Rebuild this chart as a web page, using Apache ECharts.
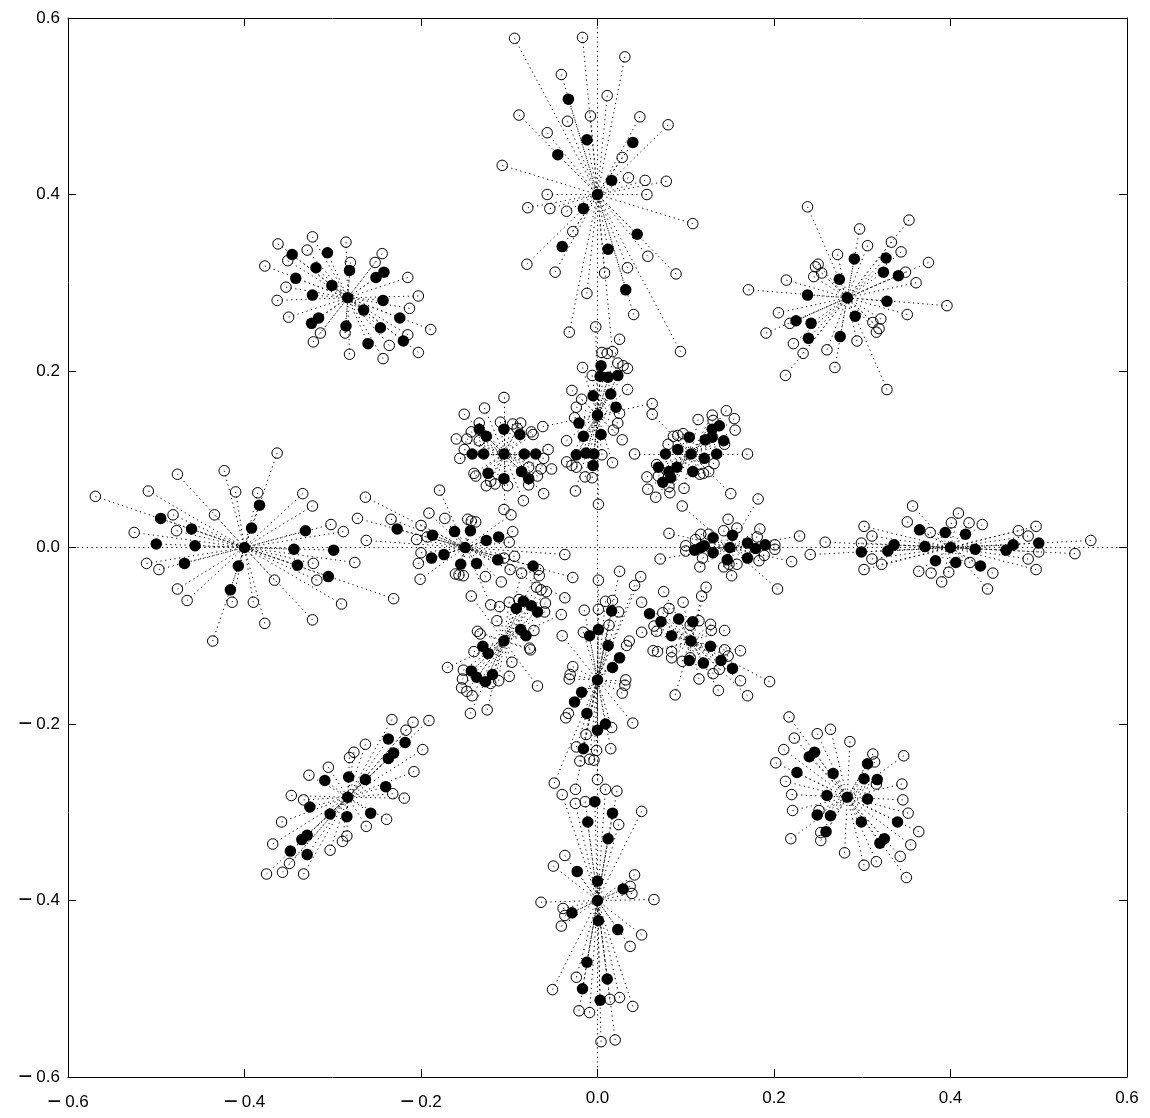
<!DOCTYPE html>
<html><head><meta charset="utf-8">
<style>html,body{margin:0;padding:0;background:#fff}#c{width:1150px;height:1118px}</style>
<script src="https://cdn.jsdelivr.net/npm/echarts@6/dist/echarts.min.js"></script>
</head><body><div id="c"></div>
<script>
const ticks=[-0.6,-0.4,-0.2,0,0.2,0.4,0.6];

const topHub=[0,0.4];
const topFilled=[[-.033,.508],[-.012,.462],[.040,.459],[-.045,.445],[.016,.416],[-.016,.384],[.045,.355],[-.040,.341],[.012,.338],[.032,.292]];
const topOpen=[[-.094,.577],[-.017,.578],[.031,.556],[-.041,.536],[.011,.512],[-.089,.490],[-.008,.489],[-.034,.483],[.048,.488],[.080,.479],[-.057,.470],[.028,.442],[-.108,.433],[.035,.419],[.054,.416],[.078,.415],[-.057,.400],[.056,.400],[-.079,.385],[-.054,.384],[-.035,.381],[-.028,.358],[.108,.367],[-.080,.321],[-.048,.312],[.008,.311],[.034,.317],[.057,.330],[.089,.310],[-.012,.288],[.041,.264],[-.032,.244],[.017,.222],[.094,.222]];

const ulHub=[-.283,.283];
const ulFilled=[[-.346,.332],[-.306,.334],[-.319,.317],[-.242,.312],[-.251,.306],[-.281,.314],[-.342,.305],[-.301,.297],[-.323,.286],[-.243,.280],[-.265,.269],[-.224,.260],[-.316,.260],[-.324,.254],[-.246,.249],[-.285,.251],[-.260,.231],[-.220,.234]];
const ulOpen=[[-.323,.352],[-.362,.344],[-.285,.346],[-.329,.337],[-.244,.333],[-.280,.323],[-.351,.325],[-.252,.323],[-.377,.319],[-.215,.306],[-.353,.295],[-.203,.285],[-.363,.280],[-.213,.271],[-.350,.261],[-.189,.247],[-.314,.243],[-.286,.243],[-.215,.241],[-.322,.233],[-.236,.229],[-.203,.221],[-.281,.219],[-.243,.214]];

const urHub=[.283,.283];
const urFilled=[[.291,.327],[.327,.328],[.324,.312],[.341,.308],[.274,.304],[.238,.286],[.328,.279],[.292,.262],[.225,.257],[.242,.254],[.275,.239],[.239,.237]];
const urOpen=[[.238,.386],[.353,.371],[.297,.361],[.333,.346],[.306,.342],[.344,.335],[.272,.332],[.250,.321],[.247,.318],[.254,.311],[.245,.307],[.375,.323],[.349,.312],[.361,.300],[.214,.303],[.171,.292],[.396,.274],[.351,.264],[.205,.266],[.321,.259],[.312,.255],[.218,.254],[.319,.248],[.316,.244],[.191,.243],[.294,.234],[.222,.231],[.260,.224],[.233,.220],[.269,.204],[.213,.195],[.328,.179]];

const leftHub=[-.4,0];
const leftFilled=[[-.495,.033],[-.383,.048],[-.392,.022],[-.460,.021],[-.331,.019],[-.500,.004],[-.456,.002],[-.344,-.002],[-.299,-.003],[-.407,-.021],[-.468,-.018],[-.340,-.020],[-.305,-.033],[-.416,-.048]];
const leftOpen=[[-.363,.107],[-.569,.058],[-.476,.083],[-.423,.087],[-.509,.064],[-.410,.063],[-.385,.062],[-.334,.061],[-.323,.047],[-.481,.037],[-.434,.037],[-.302,.026],[-.288,.018],[-.525,.017],[-.477,.019],[-.511,-.018],[-.497,-.025],[-.322,-.018],[-.275,-.017],[-.366,-.037],[-.318,-.037],[-.476,-.047],[-.465,-.060],[-.414,-.062],[-.390,-.062],[-.290,-.064],[-.377,-.086],[-.323,-.082],[-.231,-.058],[-.436,-.106]];

const innerTopHub=[0,.15];
const innerTopFilled=[[.004,.206],[.003,.194],[.012,.193],[.023,.195],[-.005,.172],[.015,.174],[.021,.159],[-.021,.141],[-.016,.126],[.004,.128],[-.024,.105],[-.013,.107],[-.004,.106],[-.005,.093]];
const innerTopOpen=[[-.002,.250],[.025,.236],[.005,.221],[.011,.220],[.023,.209],[.029,.206],[.034,.203],[-.017,.204],[-.006,.195],[-.029,.178],[.034,.179],[-.018,.168],[-.024,.159],[.025,.152],[.062,.163],[-.062,.137],[-.026,.147],[.023,.141],[.018,.133],[-.035,.121],[.028,.122],[.005,.105],[-.035,.097],[-.029,.093],[-.024,.091],[.017,.096],[-.014,.080],[-.006,.079],[-.025,.064],[.001,.049]];

const innerUlHub=[-.106,.106];
const innerUlFilled=[[-.134,.134],[-.126,.126],[-.106,.134],[-.088,.128],[-.142,.106],[-.129,.106],[-.083,.106],[-.070,.106],[-.124,.084],[-.086,.086],[-.106,.078],[-.078,.078]];
const innerUlOpen=[[-.106,.170],[-.128,.158],[-.151,.151],[-.134,.141],[-.110,.142],[-.096,.140],[-.087,.141],[-.091,.135],[-.143,.131],[-.075,.131],[-.073,.128],[-.160,.123],[-.148,.123],[-.134,.121],[-.151,.111],[-.056,.111],[-.061,.101],[-.156,.101],[-.078,.091],[-.064,.089],[-.052,.089],[-.140,.084],[-.138,.081],[-.068,.081],[-.121,.075],[-.126,.070],[-.116,.072],[-.102,.070],[-.078,.071],[-.061,.061],[-.084,.053],[-.106,.043]];

const innerUrHub=[.106,.106];
const innerUrFilled=[[.104,.125],[.091,.111],[.077,.106],[.135,.106],[.121,.101],[.143,.121],[.122,.122],[.130,.125],[.130,.134],[.138,.138],[.069,.091],[.090,.091],[.081,.086],[.083,.079],[.108,.086],[.074,.074]];
const innerUrOpen=[[.146,.155],[.130,.150],[.131,.144],[.114,.145],[.155,.146],[.156,.133],[.086,.126],[.091,.127],[.097,.129],[.080,.117],[.144,.117],[.170,.106],[.042,.106],[.062,.151],[.132,.095],[.126,.086],[.120,.084],[.116,.083],[.067,.094],[.069,.081],[.056,.080],[.057,.066],[.081,.069],[.082,.062],[.066,.057],[.098,.067],[.151,.061]];

const innerLeftHub=[-.15,0];
const innerLeftFilled=[[-.227,.021],[-.187,.014],[-.162,.018],[-.144,.019],[-.126,.008],[-.112,.012],[-.174,-.008],[-.188,-.012],[-.113,-.014],[-.155,-.019],[-.137,-.018],[-.073,-.021]];
const innerLeftOpen=[[-.263,.057],[-.272,.033],[-.262,.008],[-.179,.065],[-.191,.039],[-.234,.032],[-.173,.033],[-.200,.025],[-.147,.032],[-.143,.030],[-.138,.029],[-.193,.012],[-.205,.009],[-.096,.018],[-.100,.006],[-.098,.037],[-.200,-.006],[-.203,-.018],[-.106,-.012],[-.094,-.010],[-.037,-.008],[-.161,-.030],[-.157,-.031],[-.152,-.032],[-.099,-.025],[-.066,-.032],[-.201,-.036],[-.127,-.033],[-.109,-.039],[-.028,-.034],[-.037,-.057],[-.121,-.065]];

const innerLlHub=[-.106,-.106];
const innerLlFilled=[[-.092,-.069],[-.084,-.061],[-.075,-.066],[-.068,-.073],[-.087,-.093],[-.081,-.100],[-.130,-.112],[-.124,-.120],[-.143,-.140],[-.137,-.147],[-.127,-.152],[-.119,-.144]];
const innerLlOpen=[[-.143,-.055],[-.111,-.067],[-.100,-.062],[-.089,-.059],[-.069,-.045],[-.064,-.048],[-.058,-.050],[-.059,-.063],[-.060,-.073],[-.041,-.076],[-.114,-.083],[-.136,-.095],[-.133,-.098],[-.072,-.094],[-.077,-.114],[-.076,-.116],[-.140,-.118],[-.097,-.130],[-.170,-.136],[-.152,-.139],[-.153,-.149],[-.100,-.146],[-.112,-.151],[-.121,-.154],[-.154,-.159],[-.148,-.163],[-.142,-.168],[-.068,-.157],[-.144,-.188],[-.125,-.184],[-.086,-.029],[-.067,-.025]];

const innerBottomHub=[0,-.15];
const innerBottomFilled=[[.016,-.072],[.001,-.093],[-.009,-.100],[.012,-.111],[.025,-.125],[.017,-.136],[-.018,-.164],[-.026,-.175],[-.012,-.188],[.009,-.200],[0,-.207],[-.016,-.228]];
const innerBottomOpen=[[-.015,-.071],[.001,-.070],[.009,-.061],[.017,-.060],[.024,-.073],[-.016,-.096],[.013,-.088],[-.040,-.100],[.036,-.106],[.033,-.111],[-.028,-.135],[-.031,-.144],[-.032,-.149],[.032,-.150],[.031,-.156],[.028,-.165],[.040,-.199],[-.033,-.188],[-.036,-.193],[-.013,-.212],[.016,-.204],[-.024,-.226],[-.001,-.230],[.015,-.228],[-.020,-.242],[-.009,-.240],[-.004,-.241],[.001,-.037],[.025,-.027],[.049,-.033],[.042,-.043],[-.049,-.267],[-.025,-.274],[0,-.263]];

const innerLrHub=[.106,-.106];
const innerLrFilled=[[.059,-.075],[.072,-.084],[.092,-.081],[.108,-.084],[.084,-.100],[.128,-.112],[.140,-.128],[.153,-.137],[.120,-.131],[.104,-.128]];
const innerLrOpen=[[.075,-.050],[.097,-.062],[.050,-.062],[.123,-.045],[.118,-.055],[.081,-.069],[.074,-.074],[.115,-.083],[.128,-.087],[.129,-.094],[.105,-.088],[.144,-.094],[.064,-.089],[.067,-.095],[.050,-.096],[.063,-.117],[.068,-.118],[.144,-.116],[.148,-.123],[.162,-.117],[.084,-.118],[.084,-.125],[.096,-.129],[.105,-.125],[.138,-.138],[.131,-.143],[.115,-.149],[.162,-.151],[.137,-.162],[.088,-.167],[.170,-.168],[.195,-.152]];

const innerRightHub=[.15,0];
const innerRightFilled=[[.131,.011],[.153,.014],[.170,.005],[.190,.003],[.179,-.001],[.110,-.003],[.117,0],[.121,.002],[.131,-.006],[.170,-.012],[.147,-.014]];
const innerRightOpen=[[.182,.055],[.096,.047],[.148,.032],[.158,.022],[.143,.019],[.081,.016],[.184,.021],[.181,.012],[.117,.015],[.126,.015],[.111,.009],[.100,.002],[.100,-.004],[.201,.003],[.201,-.002],[.229,.013],[.189,-.009],[.071,-.013],[.119,-.012],[.116,-.022],[.143,-.022],[.158,-.019],[.149,-.019],[.183,-.015],[.220,-.016],[.152,-.032],[.204,-.047]];

const rightHub=[.4,0];
const rightFilled=[[.299,-.005],[.329,-.004],[.336,.003],[.365,.020],[.394,.017],[.417,.015],[.371,.001],[.428,-.002],[.463,-.003],[.471,.003],[.500,.005],[.383,-.015],[.406,-.017],[.434,-.021]];
const rightOpen=[[.357,.047],[.409,.039],[.302,.024],[.351,.029],[.401,.028],[.421,.028],[.436,.026],[.497,.024],[.311,.013],[.377,.017],[.477,.019],[.488,.013],[.299,.005],[.559,.008],[.258,.006],[.500,-.005],[.241,-.008],[.541,-.007],[.488,-.013],[.311,-.013],[.422,-.017],[.322,-.019],[.302,-.025],[.364,-.027],[.378,-.029],[.398,-.028],[.448,-.029],[.497,-.025],[.390,-.039],[.442,-.047]];

const southHub=[0,-.4];
const southFilled=[[-.003,-.288],[.017,-.301],[-.011,-.311],[.012,-.330],[-.023,-.367],[0,-.378],[.029,-.387],[-.029,-.414],[.001,-.423],[.023,-.433],[-.012,-.470],[.011,-.489],[-.017,-.500],[.003,-.513]];
const southOpen=[[-.040,-.280],[-.025,-.290],[-.014,-.288],[.009,-.274],[.022,-.276],[.050,-.299],[.024,-.314],[-.037,-.349],[-.050,-.361],[.042,-.371],[.037,-.384],[.039,-.392],[-.064,-.402],[.064,-.399],[-.039,-.409],[-.037,-.417],[-.041,-.429],[.050,-.439],[.037,-.452],[-.024,-.487],[-.051,-.501],[.025,-.510],[.014,-.512],[.040,-.520],[-.021,-.525],[-.009,-.527],[.004,-.560],[.020,-.558]];

const llHub=[-.283,-.283];
const llFilled=[[-.237,-.217],[-.218,-.221],[-.231,-.233],[-.237,-.239],[-.282,-.260],[-.263,-.263],[-.309,-.264],[-.240,-.271],[-.326,-.294],[-.303,-.302],[-.284,-.305],[-.257,-.301],[-.329,-.326],[-.335,-.331],[-.348,-.344],[-.329,-.348]];
const llOpen=[[-.233,-.195],[-.209,-.198],[-.191,-.196],[-.217,-.207],[-.263,-.223],[-.198,-.229],[-.276,-.232],[-.281,-.238],[-.305,-.249],[-.327,-.258],[-.208,-.254],[-.347,-.281],[-.333,-.286],[-.232,-.279],[-.219,-.284],[-.239,-.308],[-.358,-.311],[-.262,-.316],[-.284,-.327],[-.289,-.333],[-.368,-.336],[-.303,-.343],[-.349,-.358],[-.357,-.368],[-.375,-.370],[-.333,-.370]];

const lrHub=[.283,-.283];
const lrFilled=[[.246,-.232],[.240,-.237],[.306,-.245],[.226,-.255],[.267,-.256],[.302,-.262],[.317,-.263],[.260,-.281],[.306,-.285],[.249,-.303],[.264,-.304],[.299,-.311],[.340,-.311],[.259,-.322],[.325,-.330],[.320,-.335]];
const lrOpen=[[.217,-.192],[.264,-.206],[.249,-.211],[.223,-.216],[.286,-.220],[.211,-.229],[.312,-.234],[.314,-.243],[.347,-.236],[.202,-.244],[.213,-.265],[.345,-.268],[.316,-.268],[.220,-.280],[.346,-.286],[.221,-.298],[.251,-.298],[.352,-.301],[.364,-.322],[.253,-.323],[.219,-.330],[.253,-.332],[.355,-.337],[.280,-.346],[.343,-.350],[.316,-.356],[.302,-.360],[.350,-.374]];

const clusters=[
 [topHub,topFilled,topOpen],[ulHub,ulFilled,ulOpen],[urHub,urFilled,urOpen],[leftHub,leftFilled,leftOpen],
 [innerTopHub,innerTopFilled,innerTopOpen],[innerUlHub,innerUlFilled,innerUlOpen],[innerUrHub,innerUrFilled,innerUrOpen],
 [innerLeftHub,innerLeftFilled,innerLeftOpen],[innerLlHub,innerLlFilled,innerLlOpen],[innerBottomHub,innerBottomFilled,innerBottomOpen],
 [innerLrHub,innerLrFilled,innerLrOpen],[innerRightHub,innerRightFilled,innerRightOpen],[rightHub,rightFilled,rightOpen],
 [southHub,southFilled,southOpen],[llHub,llFilled,llOpen],[lrHub,lrFilled,lrOpen]
];

const spokes=[],filled=[],open=[];
clusters.forEach(([hub,f,o])=>{
  filled.push(hub);
  f.forEach(p=>{filled.push(p);spokes.push({coords:[p,hub]});});
  o.forEach(p=>{open.push(p);spokes.push({coords:[p,hub]});});
});
const zeroLines=[{coords:[[-.6,0],[.6,0]]},{coords:[[0,.6],[0,-.6]]}];

const dots=[1.2,3.5];
const FF='"Liberation Sans",Arial,sans-serif';
const tickText=v=>{
  const s=Math.abs(+v).toFixed(1);
  return (+v<-1e-9)?'{m|\u2212}{n|'+s+'}':'{n|'+s+'}';
};
const lab=(margin)=>({show:true,margin,formatter:tickText,color:'#000',fontFamily:FF,fontSize:17,
  rich:{m:{fontFamily:FF,fontSize:24,color:'#000',padding:[0,4,0,0]},n:{fontFamily:FF,fontSize:17,color:'#000'}}});
const ax=(pos,labelOpt)=>({type:'value',position:pos,min:-0.6,max:0.6,interval:0.2,scale:false,
  axisLine:{show:true,onZero:false,lineStyle:{color:'#000',width:1}},
  axisTick:{show:true,inside:true,length:8,lineStyle:{color:'#000',width:1}},
  axisLabel:labelOpt,splitLine:{show:false}});

const chart=echarts.init(document.getElementById('c'),null,{renderer:'canvas'});
chart.setOption({
  animation:false,backgroundColor:'#fff',
  grid:{left:68,right:23,top:18,bottom:41,containLabel:false},
  xAxis:[ax('bottom',lab(13)),ax('top',{show:false})],
  yAxis:[ax('left',lab(8)),ax('right',{show:false})],
  series:[
   {type:'lines',coordinateSystem:'cartesian2d',silent:true,data:zeroLines,symbol:'none',
    lineStyle:{color:'#000',width:1,type:dots,opacity:1},z:1},
   {type:'lines',coordinateSystem:'cartesian2d',silent:true,data:spokes,symbol:'none',
    lineStyle:{color:'#000',width:1,type:dots,opacity:1},z:2},
   {type:'scatter',silent:true,data:open,symbol:'circle',symbolSize:10.5,
    itemStyle:{color:'rgba(0,0,0,0)',borderColor:'#000',borderWidth:1,opacity:1},z:3},
   {type:'scatter',silent:true,data:filled,symbol:'circle',symbolSize:11.5,
    itemStyle:{color:'#000',opacity:1},z:4}
  ]
});
</script></body></html>
